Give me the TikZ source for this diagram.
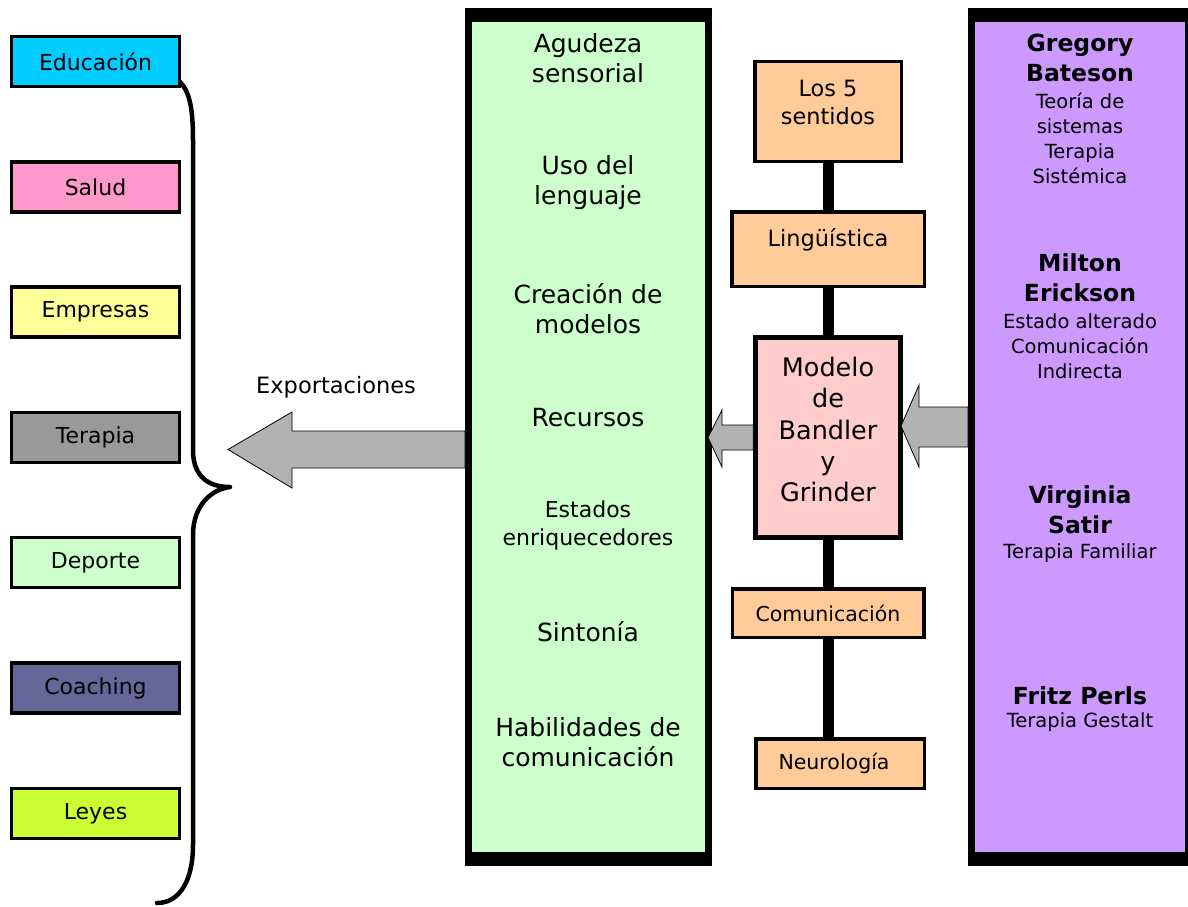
\documentclass[tikz,border=0pt]{standalone}
\usepackage{fontspec}
\setmainfont{DejaVu Sans}
\usetikzlibrary{calc}
\definecolor{cEduc}{HTML}{00CCFF}
\definecolor{cSalud}{HTML}{FF99CC}
\definecolor{cEmpresas}{HTML}{FFFF99}
\definecolor{cTerapia}{HTML}{999999}
\definecolor{cDeporte}{HTML}{CCFFCC}
\definecolor{cCoaching}{HTML}{666699}
\definecolor{cLeyes}{HTML}{CCFF33}
\definecolor{verdeclaro}{HTML}{CCFFCC}
\definecolor{lila}{HTML}{CC99FF}
\definecolor{naranja}{HTML}{FFCC99}
\definecolor{rosa}{HTML}{FFCCCC}
\definecolor{gris}{HTML}{B2B2B2}
\tikzset{
  area/.style={draw, line width=3.5, minimum width=168, minimum height=50, inner sep=0,
    font=\fontsize{22}{26}\selectfont},
  caja/.style={draw, line width=3.5, fill=naranja, inner sep=0},
  panel/.style={fill=black, inner sep=0, outer sep=0},
  flecha/.style={draw, line width=0.8, fill=gris},
  barra/.style={line width=11},
  grande/.style={align=center, font=\fontsize{25}{30}\selectfont},
  nombre/.style={align=center, font=\bfseries\fontsize{23.5}{30}\selectfont},
  nota/.style={align=center, font=\fontsize{19.5}{25}\selectfont},
}
\begin{document}
\begin{tikzpicture}[x=1pt, y=-1pt]
\useasboundingbox (0,0) rectangle (1188,907);
% aplicaciones
\foreach \id/\texto/\col [count=\i from 0] in {educ/Educación/cEduc, salud/Salud/cSalud,
    empresas/Empresas/cEmpresas, terapia/Terapia/cTerapia, deporte/Deporte/cDeporte,
    coaching/Coaching/cCoaching, leyes/Leyes/cLeyes}
  \node[area, fill=\col] (\id) at (95.5, {61.5+125.3*\i}) {\texto};
\draw[line width=4.5, line cap=round, line join=round]
  (180,82) .. controls (190,92) and (193,110) .. (193,140) -- (193,450)
  .. controls (193,478) and (210,487) .. (230,487)
  .. controls (212,489) and (193,505) .. (193,535) -- (193,845)
  .. controls (193,880) and (180,903) .. (157,903);

% panel verde
\node[panel, minimum width=247, minimum height=858] (practicas) at (588.5,437) {};
\fill[verdeclaro] ($(practicas.north west)+(7,14)$) rectangle ($(practicas.south east)+(-7,-14)$);
\node[grande] (agudeza) at (588,58) {Agudeza\\sensorial};
\node[grande] (lenguaje) at (588,183) {Uso del\\lenguaje};
\node[grande] (modelos) at (588,309) {Creación de\\modelos};
\node[grande] (recursos) at (588,418) {Recursos};
\node[align=center, font=\fontsize{22}{28}\selectfont] (estados) at (588,525.5) {Estados\\enriquecedores};
\node[grande] (sintonia) at (588,632) {Sintonía};
\node[grande] (habilidades) at (588,742) {Habilidades de\\comunicación};

% panel lila
\node[panel, minimum width=224, minimum height=858] (autores) at (1080,437) {};
\fill[lila] ($(autores.north west)+(7,14)$) rectangle ($(autores.south east)+(-7,-14)$);
\node[nombre] (bateson) at (1080,58) {Gregory\\Bateson};
\node[nota] (batesonnota) at (1080,138.5) {Teoría de\\sistemas\\Terapia\\Sistémica};
\node[nombre] (erickson) at (1080,278) {Milton\\Erickson};
\node[nota] (ericksonnota) at (1080,346.5) {Estado alterado\\Comunicación\\Indirecta};
\node[nombre] (satir) at (1080,509.5) {Virginia\\Satir};
\node[nota] (satirnota) at (1080,553) {Terapia Familiar};
\node[nombre] (perls) at (1080,696) {Fritz Perls};
\node[nota] (perlsnota) at (1080,722) {Terapia Gestalt};

% columna central
\node[caja, minimum width=146.5, minimum height=99.5] (sentidos) at (828,111.5) {};
\node[align=center, font=\fontsize{22.4}{28}\selectfont] (sentidostxt) at (828,102) {Los 5\\sentidos};
\node[caja, minimum width=192.5, minimum height=74.5] (ling) at (828,249) {};
\node[font=\fontsize{22.5}{27}\selectfont] (lingtxt) at (828,240) {Lingüística};
\node[caja, fill=rosa, line width=4.5, minimum width=145, minimum height=200] (modelo) at (828,437.5) {};
\node[align=center, font=\fontsize{25.5}{31.3}\selectfont] (modelotxt) at (828,429.5) {Modelo\\de\\Bandler\\y\\Grinder};
\node[caja, minimum width=191.5, minimum height=48.5, font=\fontsize{20.5}{24}\selectfont] (comun) at (828,613) {Comunicación};
\node[caja, minimum width=168.5, minimum height=49.5] (neuro) at (840,763.5) {};
\node[font=\fontsize{20.5}{24}\selectfont] (neurotxt) at (834,763) {Neurología};
\draw[barra] (sentidos.south) -- (ling.north);
\draw[barra] (ling.south) -- (modelo.north);
\draw[barra] (modelo.south) -- (modelo.south |- comun.north);
\draw[barra] (comun.south) -- (comun.south |- neuro.north);

% flechas
\draw[flecha] (practicas.west |- 0,431) -- (292,431) -- (292,412) -- (228,449.5)
  -- (292,488) -- (292,468) -- (practicas.west |- 0,468) -- cycle;
\node[font=\fontsize{22.5}{27}\selectfont] (export) at (336,387) {Exportaciones};
\draw[flecha] (modelo.west |- 0,425) -- (722,425) -- (722,410) -- (708,437.5)
  -- (722,467) -- (722,450) -- (modelo.west |- 0,450) -- cycle;
\draw[flecha] (autores.west |- 0,407) -- (919,407) -- (919,385) -- (901,426)
  -- (919,467) -- (919,447) -- (autores.west |- 0,447) -- cycle;
\end{tikzpicture}
\end{document}
